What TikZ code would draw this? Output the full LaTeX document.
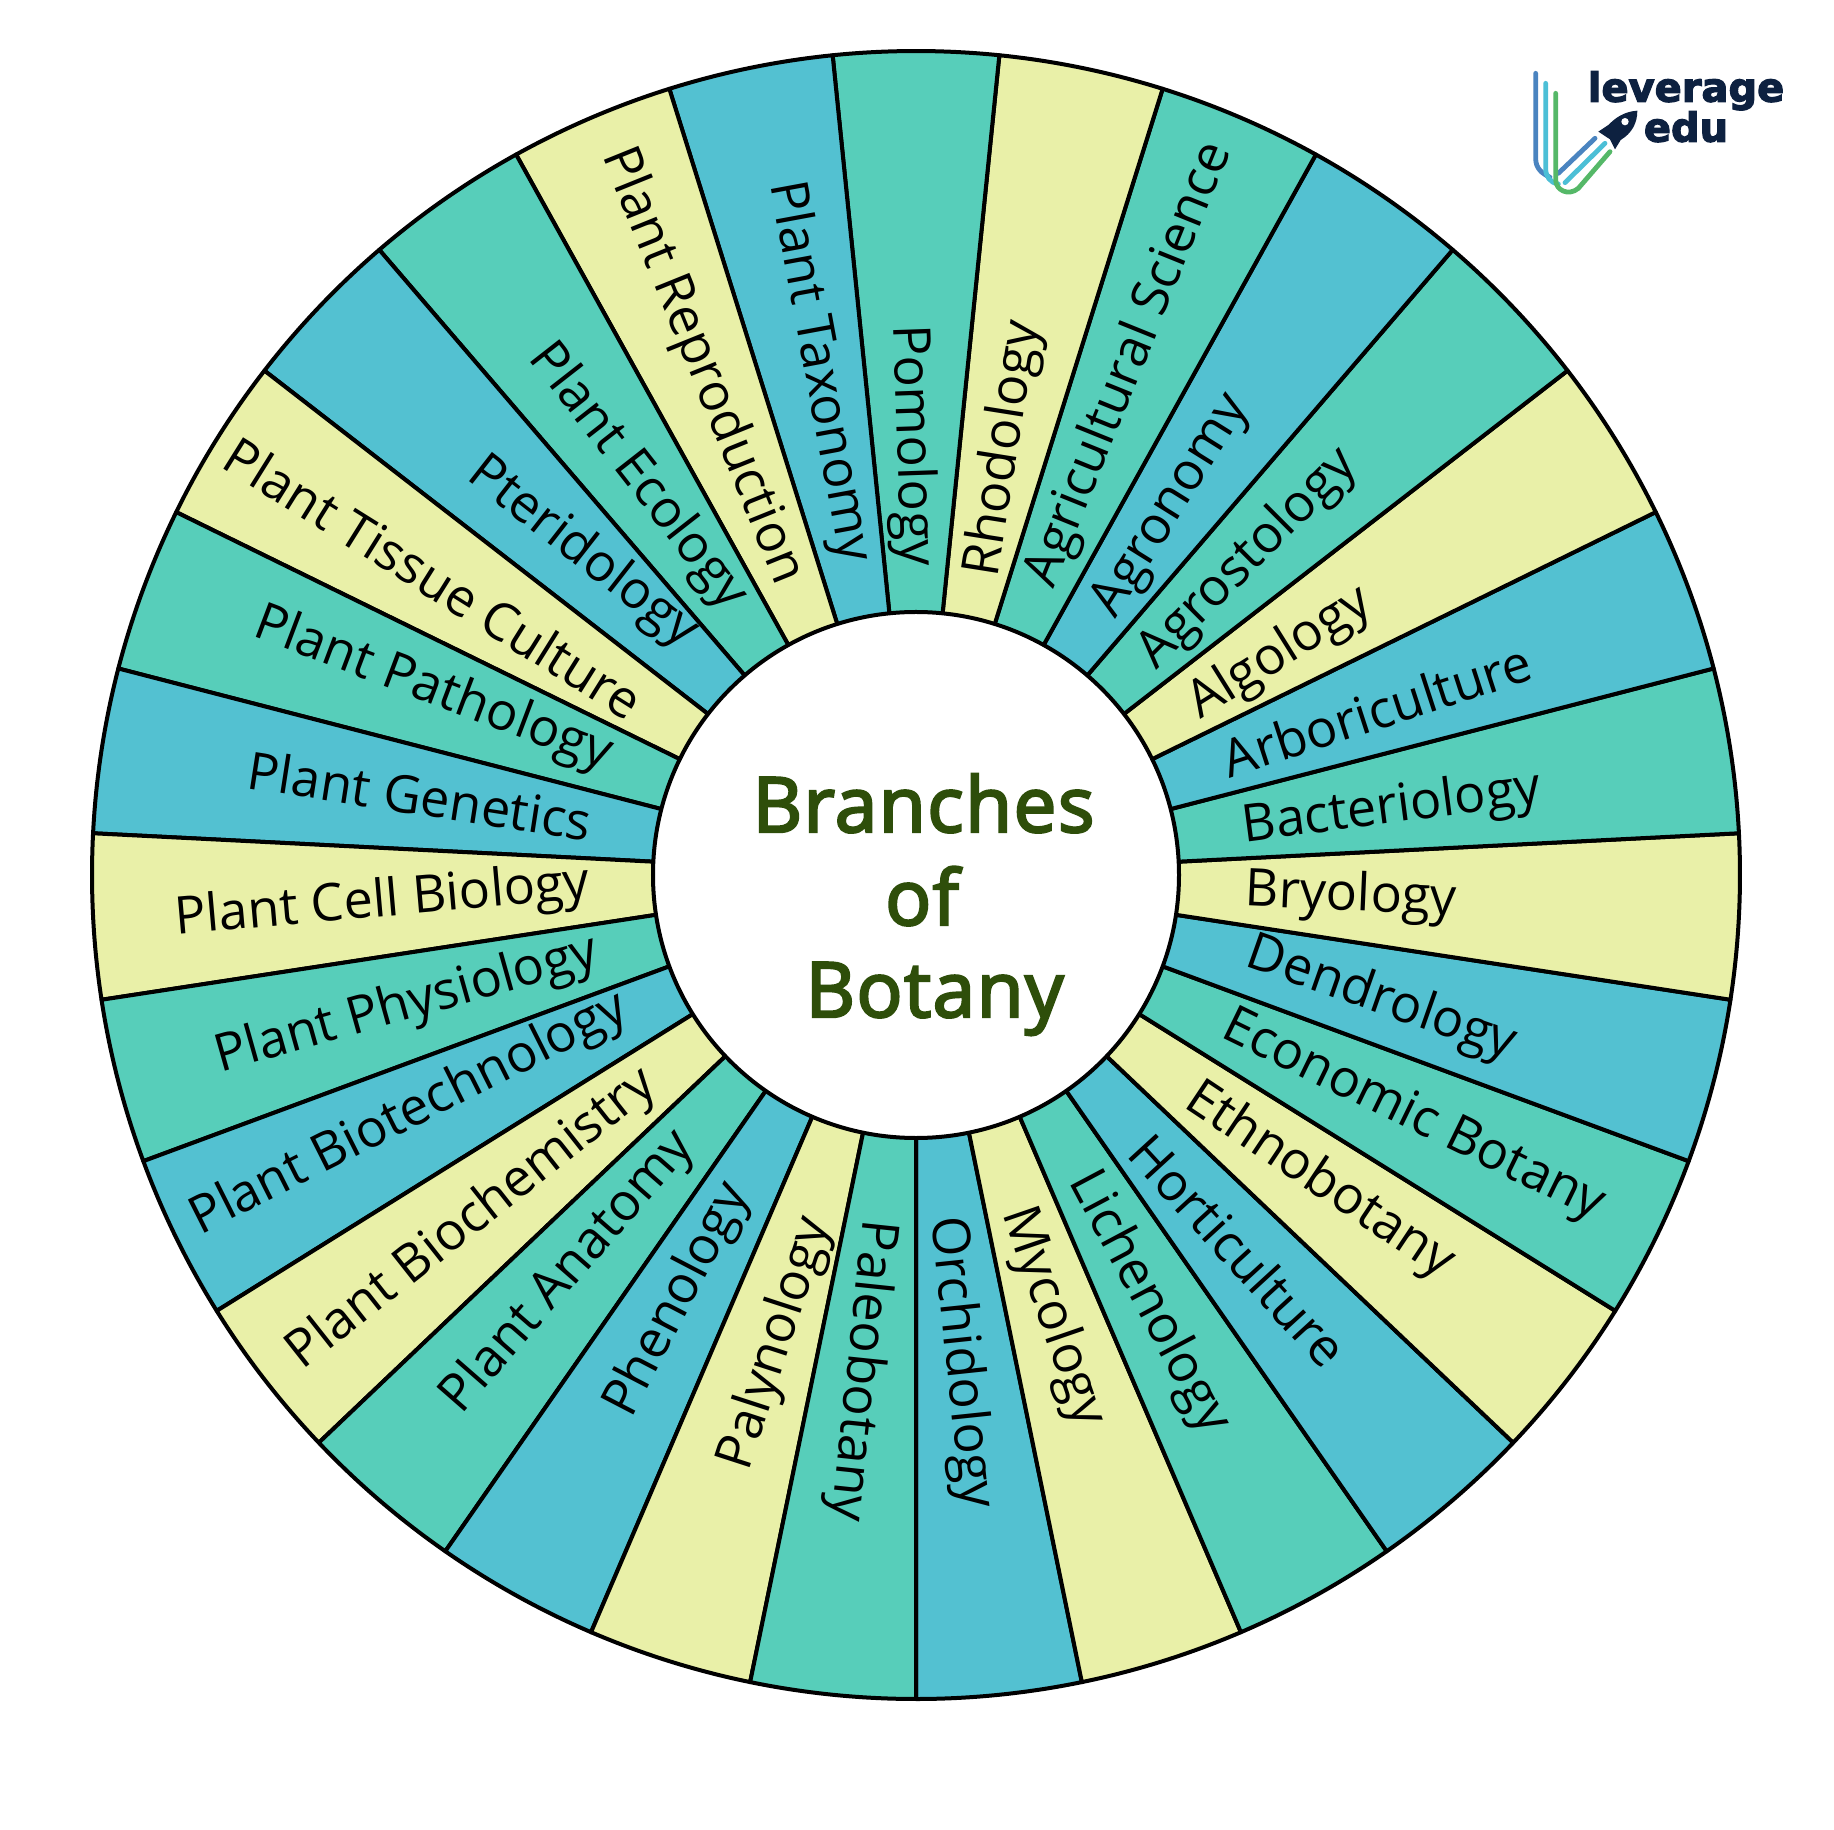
\documentclass[tikz,border=0pt]{standalone}
\usepackage{fontspec}
\setmainfont{Open Sans}
\newfontfamily\titlefont[FakeBold=3.2,LetterSpace=2]{Open Sans}
\newfontfamily\logofont[BoldFeatures={FakeBold=3}]{DejaVu Sans}
\definecolor{wgreen}{HTML}{57CEBA}
\definecolor{wblue}{HTML}{53C1D1}
\definecolor{wyellow}{HTML}{E9F0A8}
\definecolor{titlegreen}{HTML}{2E4E0A}
\definecolor{lnavy}{HTML}{0D2140}
\definecolor{lblue}{HTML}{4A84C0}
\definecolor{lteal}{HTML}{4CBFD6}
\definecolor{lgreen}{HTML}{55B868}
\tikzset{
  wedge/.style={draw=black,line width=2pt,line join=round},
  branch/.style={font=\fontsize{26pt}{28pt}\selectfont,text=black,inner sep=0pt,anchor=center},
  title/.style={font=\fontsize{38.2pt}{44pt}\titlefont,text=titlegreen,inner sep=0pt,anchor=base},
  trail/.style={line width=2.4pt,line cap=round,line join=round},
  logotext/.style={font=\fontsize{20pt}{22pt}\logofont\bfseries,text=lnavy,inner sep=0pt,anchor=base}
}
\begin{document}
\begin{tikzpicture}[x=0.5pt,y=0.5pt]
\useasboundingbox (-916,875) rectangle (918,-954);
\fill[white] (-916,875) rectangle (918,-954);
\foreach \lab/\col/\px/\py/\rot [count=\i from 0] in {
 Orchidology/wblue/821/1165/-84,
 Mycology/wyellow/900/1126/-71,
 Lichenology/wgreen/982/1114/-62,
 Horticulture/wblue/1059/1069/-47.5,
 Ethnobotany/wyellow/1128/1010/-33.7,
 Economic Botany/wgreen/1208/955/-26,
 Dendrology/wblue/1181/855/-19.4,
 Bryology/wyellow/1155/767/-2.5,
 Bacteriology/wgreen/1190/692/7.5,
 Arboriculture/wblue/1177/607/18,
 Algology/wyellow/1095/559/32,
 Agrostology/wgreen/1067/478/45,
 Agronomy/wblue/1002/433/58,
 Agricultural Science/wgreen/966/312/68,
 Rhodology/wyellow/859/384/81,
 Pomology/wgreen/779/381/-88,
 Plant Taxonomy/wblue/700/318/-79.5,
 Plant Reproduction/wyellow/600/313/-68,
 Plant Ecology/wgreen/545/408/-52,
 Pteridology/wblue/498/473/-38,
 Plant Tissue Culture/wyellow/371/494/-32,
 Plant Pathology/wgreen/370/590/-20.7,
 Plant Genetics/wblue/359/680/-8.8,
 Plant Cell Biology/wyellow/327/772/5,
 Plant Physiology/wgreen/348/860/15.7,
 Plant Biotechnology/wblue/350/953/26.7,
 Plant Biochemistry/wyellow/404/1043/38.3,
 Plant Anatomy/wgreen/486/1088/48.9,
 Phenology/wblue/580/1112/62.5,
 Palynology/wyellow/664/1149/72,
 Paleobotany/wgreen/736/1172/-96}
{
  \pgfmathsetmacro{\sa}{270+\i*360/31}
  \pgfmathsetmacro{\ea}{\sa+360/31}
  \draw[wedge,fill=\col] (0,0) -- (\sa:824) arc[start angle=\sa,end angle=\ea,radius=824] -- cycle;
  \node[branch,rotate=\rot] (L\i) at ({\px*1.1696-916},{875-\py*1.1696}) {\lab};
}
\draw[wedge,fill=white] (0,0) circle[radius=263];
\node[title] (t1) at (7.6,43) {Branches};
\node[title] (t2) at (6,-50) {of};
\node[title] (t3) at (18.6,-142) {Botany};
% logo, in 3x crop coordinates
\begin{scope}[shift={(584,835)},x=0.16667pt,y=-0.16667pt]
  \draw[trail,lblue] (107,100) -- (107,355) .. controls (107,385) and (125,400) .. (150,412);
  \draw[trail,lblue] (175,400) -- (285,295);
  \draw[trail,lteal] (137,130) -- (137,385) .. controls (137,410) and (150,428) .. (175,432);
  \draw[trail,lteal] (195,428) -- (315,310);
  \draw[trail,lgreen] (167,160) -- (167,420) .. controls (167,450) and (205,470) .. (235,445) -- (330,335);
  \fill[lnavy] (412,212) .. controls (370,215) and (345,235) .. (325,255) -- (295,275) -- (330,298) -- (345,328) -- (362,300)
     .. controls (395,280) and (412,250) .. (412,212) -- cycle;
  \fill[white] (375,245) circle[radius=11];
  \node[logotext] (logo1) at (558,185) {leverage};
  \node[logotext] (logo2) at (558,305) {edu};
\end{scope}
\end{tikzpicture}
\end{document}
